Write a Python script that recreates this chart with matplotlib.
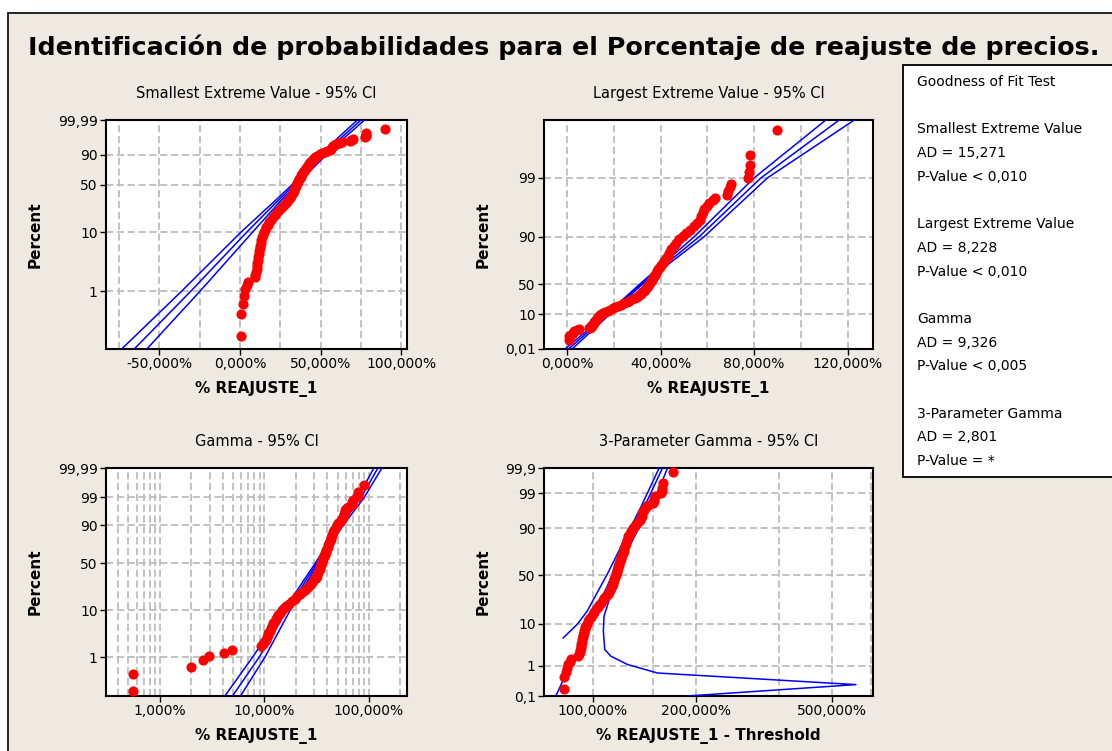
import numpy as np
import matplotlib
matplotlib.use('Agg')
import matplotlib.pyplot as plt
from matplotlib.patches import Rectangle
from matplotlib.ticker import FixedLocator, NullLocator, NullFormatter

# sorted observations of % REAJUSTE_1 and their plotting positions (percent)
reajuste = [0.55, 0.55, 1.98, 2.59, 2.94, 4.12, 4.94,
            9.2, 9.6, 10.0, 10.3, 10.5, 10.7, 10.9, 11.2, 11.6, 11.9,
            12.2, 12.5, 12.8, 13.1, 13.5, 14.0, 14.6, 15.4, 16.2, 17.2,
            18.3, 19.4, 20.6, 21.8, 23.0, 24.2, 25.4, 26.6, 27.8, 28.9,
            29.9, 30.8, 31.5, 32.1, 32.7, 33.2, 33.7, 34.1, 34.5, 35.0,
            35.4, 35.8, 36.2, 36.6, 37.1, 37.6, 38.1, 38.6, 39.0, 39.5,
            40.1, 40.8, 41.5, 42.2, 43.0, 43.7, 44.4, 45.5, 46.6, 48.0,
            49.6, 51.0, 52.6, 54.2, 55.6, 56.6, 57.3, 57.9, 58.5, 59.6,
            60.8, 62.2, 63.2, 68.4, 68.9, 69.5, 70.0, 77.2, 77.8, 78.2,
            78.4, 89.8]
percent = [0.17, 0.41, 0.61, 0.84, 1.08, 1.25, 1.45,
           1.72, 1.9, 2.1, 2.4, 2.7, 3.0, 3.4, 3.8, 4.3, 4.8,
           5.4, 6.0, 6.7, 7.4, 8.2, 9.0, 10.0, 11.0, 12.0, 13.2,
           14.5, 16.0, 17.5, 19.0, 20.7, 22.4, 24.2, 26.1, 28.0, 30.0,
           32.0, 34.0, 36.0, 38.0, 40.0, 42.0, 44.0, 46.0, 48.0, 50.0,
           52.0, 54.0, 56.0, 58.0, 60.0, 62.0, 64.0, 66.0, 68.0, 70.0,
           72.0, 74.0, 76.0, 78.0, 80.0, 82.0, 84.0, 86.0, 87.5, 89.0,
           90.3, 91.4, 92.4, 93.3, 94.1, 94.8, 95.5, 96.1, 96.6, 97.0,
           97.3, 97.6, 97.8, 98.05, 98.3, 98.55, 98.75, 99.0, 99.2, 99.4,
           99.6, 99.85]
threshold = -81.6

# fitted lines and 95% confidence bounds
sev_pct = [0.1, 1, 10, 30, 60, 90, 99, 99.99]
sev_fit = [-65.5, -30.4, 4.2, 23.0, 38.0, 52.0, 63.0, 75.0]
sev_lo = [-73.3, -36.1, 0.6, 21.2, 36.8, 50.5, 61.0, 72.8]
sev_hi = [-57.7, -24.7, 7.8, 24.8, 39.2, 53.5, 65.0, 77.2]

lev_pct = [0.01, 10, 50, 90, 99, 99.9]
lev_fit = [0.5, 17.5, 31.6, 56.4, 82.9, 116.4]
lev_lo = [-1.0, 16.8, 31.0, 54.3, 80.0, 110.7]
lev_hi = [2.0, 18.2, 32.2, 58.5, 85.7, 122.9]

gam_pct = [0.13, 1, 10, 50, 90, 99, 99.99]
gam_fit = [4.95, 8.9, 16.4, 31.6, 54.1, 84.0, 121.7]
gam_lo = [4.18, 7.7, 15.3, 30.5, 51.6, 78.0, 111.4]
gam_hi = [5.90, 10.1, 17.6, 32.7, 56.6, 90.0, 132.9]

g3_fit_x = [78.0, 159.9]
g3_fit_pct = [0.1, 99.9]
g3_up_x = [82.0, 90.1, 96.4, 103.1, 110.3, 123.4, 138.1, 156.3]
g3_up_pct = [4.7, 9.7, 16.5, 31.3, 51.2, 83.4, 97.4, 99.9]
g3_dn_x = [165.4, 151.2, 141.3, 129.1, 116.7, 110.3, 107.9, 107.4,
           108.4, 112.9, 126.3, 154.5, 587.0, 189.0]
g3_dn_pct = [99.9, 98.36, 95.0, 81.1, 47.3, 19.9, 13.6, 6.8,
             2.47, 1.70, 1.06, 0.57, 0.237, 0.1]

gof_text = ["Goodness of Fit Test", "",
            "Smallest Extreme Value", "AD = 15,271", "P-Value < 0,010", "",
            "Largest Extreme Value", "AD = 8,228", "P-Value < 0,010", "",
            "Gamma", "AD = 9,326", "P-Value < 0,005", "",
            "3-Parameter Gamma", "AD = 2,801", "P-Value = *"]

BEIGE = '#eeeae1'
GRID = '#bdbdbd'
W, H = 1112, 751


def _frac(p):
    return np.clip(np.asarray(p, dtype=float), 1e-7, 100 - 1e-7) / 100


def sev_funcs():
    def fwd(p):
        return np.log(-np.log(1 - _frac(p)))

    def inv(y):
        with np.errstate(over='ignore'):
            return 100 * (1 - np.exp(-np.exp(np.asarray(y, dtype=float))))
    return fwd, inv


def lev_funcs():
    def fwd(p):
        return -np.log(-np.log(_frac(p)))

    def inv(y):
        with np.errstate(over='ignore'):
            return 100 * np.exp(-np.exp(-np.asarray(y, dtype=float)))
    return fwd, inv


def anchored_funcs(pcts, pos):
    # piecewise-linear probability axis in logit space
    z = np.log(_frac(pcts) / (1 - _frac(pcts)))
    pos = np.asarray(pos, dtype=float)
    s0 = (pos[1] - pos[0]) / (z[1] - z[0])
    s1 = (pos[-1] - pos[-2]) / (z[-1] - z[-2])

    def fwd(p):
        f = _frac(p)
        t = np.log(f / (1 - f))
        return np.where(t < z[0], pos[0] + (t - z[0]) * s0,
                        np.where(t > z[-1], pos[-1] + (t - z[-1]) * s1,
                                 np.interp(t, z, pos)))

    def inv(y):
        y = np.asarray(y, dtype=float)
        t = np.where(y < pos[0], z[0] + (y - pos[0]) / s0,
                     np.where(y > pos[-1], z[-1] + (y - pos[-1]) / s1,
                              np.interp(y, pos, z)))
        with np.errstate(over='ignore'):
            return 100 / (1 + np.exp(-t))
    return fwd, inv


fig = plt.figure(figsize=(W / 100, H / 100), dpi=100)
fig.patch.set_facecolor('white')
fig.add_artist(Rectangle((8 / W, -0.05), 1.1, 1 - 13 / H + 0.05,
                         transform=fig.transFigure, facecolor=BEIGE,
                         edgecolor='black', linewidth=1.2, zorder=0))

fig.text(28 / W, 1 - 47 / H,
         'Identificación de probabilidades para el Porcentaje de reajuste de precios.',
         fontsize=18.3, fontweight='bold', va='center', ha='left')


def panel(rect, title, xlabel, ylab_x):
    l, t, r, b = rect
    ax = fig.add_axes([l / W, 1 - b / H, (r - l) / W, (b - t) / H])
    ax.set_facecolor('white')
    for s in ax.spines.values():
        s.set_linewidth(1.5)
    ax.set_title(title, fontsize=10.5, pad=16)
    ax.set_xlabel(xlabel, fontsize=11, fontweight='bold')
    ax.xaxis.set_label_coords(0.5, -32 / (b - t))
    ax.set_ylabel('Percent', fontsize=11, fontweight='bold')
    ax.yaxis.set_label_coords((ylab_x + 8 - l) / (r - l), 0.5)
    ax.tick_params(which='major', length=4, width=1, labelsize=10, pad=2)
    ax.tick_params(which='minor', length=0)
    ax.set_axisbelow(True)
    return ax


def finish(ax, xt, xtl, xminor, yt, ytl):
    ax.set_xticks(xt)
    ax.set_xticklabels(xtl)
    ax.xaxis.set_minor_locator(FixedLocator(xminor))
    ax.xaxis.set_minor_formatter(NullFormatter())
    ax.set_yticks(yt)
    ax.set_yticklabels(ytl)
    ax.yaxis.set_minor_locator(NullLocator())
    ax.grid(True, which='both', axis='x', color=GRID, linestyle=(0, (4, 2)), linewidth=1.3)
    ax.grid(True, which='major', axis='y', color=GRID, linestyle=(0, (4, 2)), linewidth=1.3)


def draw_points(ax, x, p):
    ax.plot(x, p, 'o', color='red', markersize=7.3, markeredgewidth=0,
            zorder=4, clip_on=False)


line_kw = dict(color='blue', linewidth=1.1, zorder=3)

# Smallest extreme value
ax1 = panel((106, 120, 407, 349), 'Smallest Extreme Value - 95% CI', '% REAJUSTE_1', 35)
ax1.set_yscale('function', functions=sev_funcs())
for xs in (sev_lo, sev_fit, sev_hi):
    ax1.plot(xs, sev_pct, **line_kw)
draw_points(ax1, reajuste, percent)
ax1.set_xlim(-83, 103.5)
ax1.set_ylim(0.1, 99.99)
finish(ax1, [-50, 0, 50, 100], ['-50,000%', '0,000%', '50,000%', '100,000%'],
       [-75, -25, 25, 75], [1, 10, 50, 90, 99.99], ['1', '10', '50', '90', '99,99'])

# Largest extreme value
ax2 = panel((544, 120, 873, 349), 'Largest Extreme Value - 95% CI', '% REAJUSTE_1', 483)
ax2.set_yscale('function', functions=lev_funcs())
for xs in (lev_lo, lev_fit, lev_hi):
    ax2.plot(xs, lev_pct, **line_kw)
draw_points(ax2, reajuste, percent)
ax2.set_xlim(-10, 130.9)
ax2.set_ylim(0.01, 99.9)
finish(ax2, [0, 40, 80, 120], ['0,000%', '40,000%', '80,000%', '120,000%'],
       [20, 60, 100], [0.01, 10, 50, 90, 99], ['0,01', '10', '50', '90', '99'])

# Gamma
ax3 = panel((106, 468, 407, 696), 'Gamma - 95% CI', '% REAJUSTE_1', 35)
ax3.set_xscale('log')
ax3.set_yscale('function', functions=anchored_funcs(
    [0.13, 1, 10, 50, 90, 99, 99.99], [0, 116, 256, 396, 510, 593, 681]))
for xs in (gam_lo, gam_fit, gam_hi):
    ax3.plot(xs, gam_pct, **line_kw)
draw_points(ax3, reajuste, percent)
ax3.set_xlim(0.305, 231)
ax3.set_ylim(0.13, 99.99)
gam_minor = [m * d for d in (0.1, 1, 10, 100) for m in range(2, 10)]
finish(ax3, [1, 10, 100], ['1,000%', '10,000%', '100,000%'], gam_minor,
       [1, 10, 50, 90, 99, 99.99], ['1', '10', '50', '90', '99', '99,99'])

# 3-parameter gamma
ax4 = panel((544, 468, 873, 696), '3-Parameter Gamma - 95% CI',
            '% REAJUSTE_1 - Threshold', 483)
ax4.set_xscale('log')
ax4.set_yscale('function', functions=anchored_funcs(
    [0.1, 1, 10, 50, 90, 99, 99.9], [0, 91, 216, 361, 501, 606, 681]))
ax4.plot(g3_fit_x, g3_fit_pct, **line_kw)
ax4.plot(g3_up_x, g3_up_pct, **line_kw)
ax4.plot(g3_dn_x, g3_dn_pct, **line_kw)
draw_points(ax4, np.array(reajuste) - threshold, percent)
ax4.set_xlim(72.05, 658.7)
ax4.set_ylim(0.1, 99.9)
finish(ax4, [100, 200, 500], ['100,000%', '200,000%', '500,000%'],
       [150, 350, 650], [0.1, 1, 10, 50, 90, 99, 99.9],
       ['0,1', '1', '10', '50', '90', '99', '99,9'])

# goodness of fit table
fig.add_artist(Rectangle((903 / W, 1 - 477 / H), 0.2, (477 - 65) / H,
                         transform=fig.transFigure, facecolor='white',
                         edgecolor='black', linewidth=1.3, zorder=1))
for i, line in enumerate(gof_text):
    fig.text(917 / W, 1 - (82 + 23.7 * i) / H, line, fontsize=10,
             va='center', ha='left', zorder=2)

fig.savefig('out.png', dpi=100)
